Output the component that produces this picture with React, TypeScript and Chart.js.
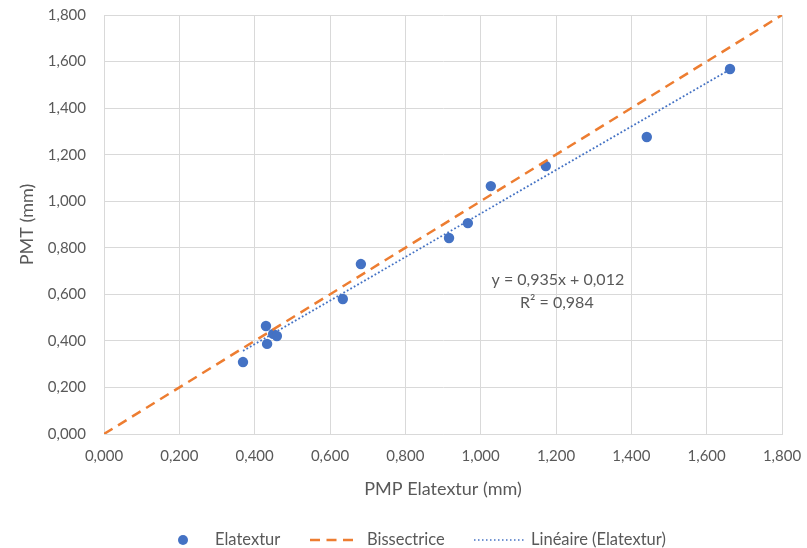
import React, { useEffect, useRef } from "react";
import { Chart, registerables } from "chart.js";

Chart.register(...registerables);

// Data
const pmpElatextur = [0.369, 0.430, 0.433, 0.449, 0.459, 0.634, 0.682, 0.916, 0.966, 1.027, 1.173, 1.441, 1.662];
const pmt = [0.309, 0.464, 0.387, 0.430, 0.421, 0.580, 0.730, 0.842, 0.906, 1.065, 1.151, 1.276, 1.568];
const bisX = [0, 1.8];
const bisY = [0, 1.8];
const trendSlope = 0.935;
const trendIntercept = 0.012;
const trendLabel = ["y = 0,935x + 0,012", "R\u00b2 = 0,984"];
const seriesNames = ["Elatextur", "Bissectrice", "Lin\u00e9aire (Elatextur)"];
const axisMin = 0;
const axisMax = 1.8;
const axisStep = 0.2;

const FONT = "Lato, 'Open Sans', sans-serif";
const TEXT = "#595959";
const BLUE = "#4472C4";
const ORANGE = "#ED7D31";
const GRID = "#D9D9D9";

const fmt = (v: number) => v.toFixed(3).replace(".", ",");

export default function App() {
  const ref = useRef<HTMLCanvasElement | null>(null);

  useEffect(() => {
    document.body.style.margin = "0";
    const canvas = ref.current;
    if (!canvas) return;

    const xs = pmpElatextur;
    const tMin = Math.min(...xs);
    const tMax = Math.max(...xs);
    const trendData = [
      { x: tMin, y: trendSlope * tMin + trendIntercept },
      { x: tMax, y: trendSlope * tMax + trendIntercept },
    ];

    const extras = {
      id: "extras",
      afterDatasetsDraw(chart: any) {
        const { ctx, scales } = chart;
        const xS = scales.x;
        const yS = scales.y;
        ctx.save();
        ctx.fillStyle = TEXT;
        ctx.font = `16px ${FONT}`;
        ctx.textAlign = "center";
        ctx.textBaseline = "middle";
        const lx = xS.getPixelForValue(1.205);
        ctx.fillText(trendLabel[0], lx, yS.getPixelForValue(0.662));
        ctx.fillText(trendLabel[1], lx - 1, yS.getPixelForValue(0.563));
        ctx.restore();
      },
      afterDraw(chart: any) {
        const { ctx } = chart;
        const y = 540;
        ctx.save();
        ctx.font = `16.5px ${FONT}`;
        ctx.textBaseline = "middle";
        ctx.textAlign = "left";
        // item 1: dot
        ctx.beginPath();
        ctx.fillStyle = BLUE;
        ctx.arc(183, y, 5, 0, Math.PI * 2);
        ctx.fill();
        ctx.fillStyle = TEXT;
        ctx.fillText(seriesNames[0], 215, y);
        // item 2: dashed
        ctx.beginPath();
        ctx.strokeStyle = ORANGE;
        ctx.lineWidth = 2.5;
        ctx.setLineDash([10, 6.5]);
        ctx.moveTo(310, y);
        ctx.lineTo(354, y);
        ctx.stroke();
        ctx.fillText(seriesNames[1], 367, y);
        // item 3: dotted
        ctx.beginPath();
        ctx.strokeStyle = BLUE;
        ctx.lineWidth = 1.5;
        ctx.setLineDash([1.5, 2.5]);
        ctx.moveTo(474, y);
        ctx.lineTo(526, y);
        ctx.stroke();
        ctx.setLineDash([]);
        ctx.fillText(seriesNames[2], 531, y);
        ctx.restore();
      },
    };

    const chart = new Chart(canvas, {
      type: "scatter",
      data: {
        datasets: [
          {
            label: seriesNames[1],
            data: bisX.map((x, i) => ({ x, y: bisY[i] })),
            showLine: true,
            borderColor: ORANGE,
            borderWidth: 2.5,
            borderDash: [10, 6.5],
            pointRadius: 0,
            fill: false,
          },
          {
            label: seriesNames[2],
            data: trendData,
            showLine: true,
            borderColor: BLUE,
            borderWidth: 1.8,
            borderDash: [1.8, 2.2],
            pointRadius: 0,
            fill: false,
          },
          {
            label: seriesNames[0],
            data: xs.map((x, i) => ({ x, y: pmt[i] })),
            backgroundColor: BLUE,
            borderColor: BLUE,
            pointRadius: 5.2,
            pointHoverRadius: 5.2,
            borderWidth: 0,
          },
        ],
      },
      options: {
        animation: false,
        responsive: true,
        maintainAspectRatio: false,
        layout: { padding: { left: 0, top: 15, right: 25, bottom: 48 } },
        plugins: {
          legend: { display: false },
          tooltip: { enabled: false },
        },
        scales: {
          x: {
            type: "linear",
            min: axisMin,
            max: axisMax,
            ticks: {
              stepSize: axisStep,
              callback: (v: any) => fmt(Number(v)),
              color: TEXT,
              font: { family: FONT, size: 15 },
              padding: 13,
              maxRotation: 0,
            },
            grid: { color: GRID, drawTicks: false, lineWidth: 1 },
            border: { color: GRID },
            title: {
              display: true,
              text: "PMP Elatextur (mm)",
              color: TEXT,
              font: { family: FONT, size: 18 },
              padding: { top: 0, bottom: 0 },
            },
            afterFit: (s: any) => {
              s.height = 66;
              s.paddingLeft = 0;
              s.paddingRight = 0;
            },
          },
          y: {
            type: "linear",
            min: axisMin,
            max: axisMax,
            ticks: {
              stepSize: axisStep,
              callback: (v: any) => fmt(Number(v)),
              color: TEXT,
              font: { family: FONT, size: 15 },
              padding: 18,
            },
            grid: { color: GRID, drawTicks: false, lineWidth: 1 },
            border: { color: GRID },
            title: {
              display: true,
              text: "PMT (mm)",
              color: TEXT,
              font: { family: FONT, size: 18 },
              padding: { top: 16, bottom: 0 },
            },
            afterFit: (s: any) => {
              s.width = 104;
              s.paddingTop = 0;
              s.paddingBottom = 0;
            },
          },
        },
      },
      plugins: [extras],
    });

    return () => chart.destroy();
  }, []);

  return (
    <div style={{ width: 807, height: 548, position: "relative", background: "#fff" }}>
      <canvas ref={ref} />
    </div>
  );
}
